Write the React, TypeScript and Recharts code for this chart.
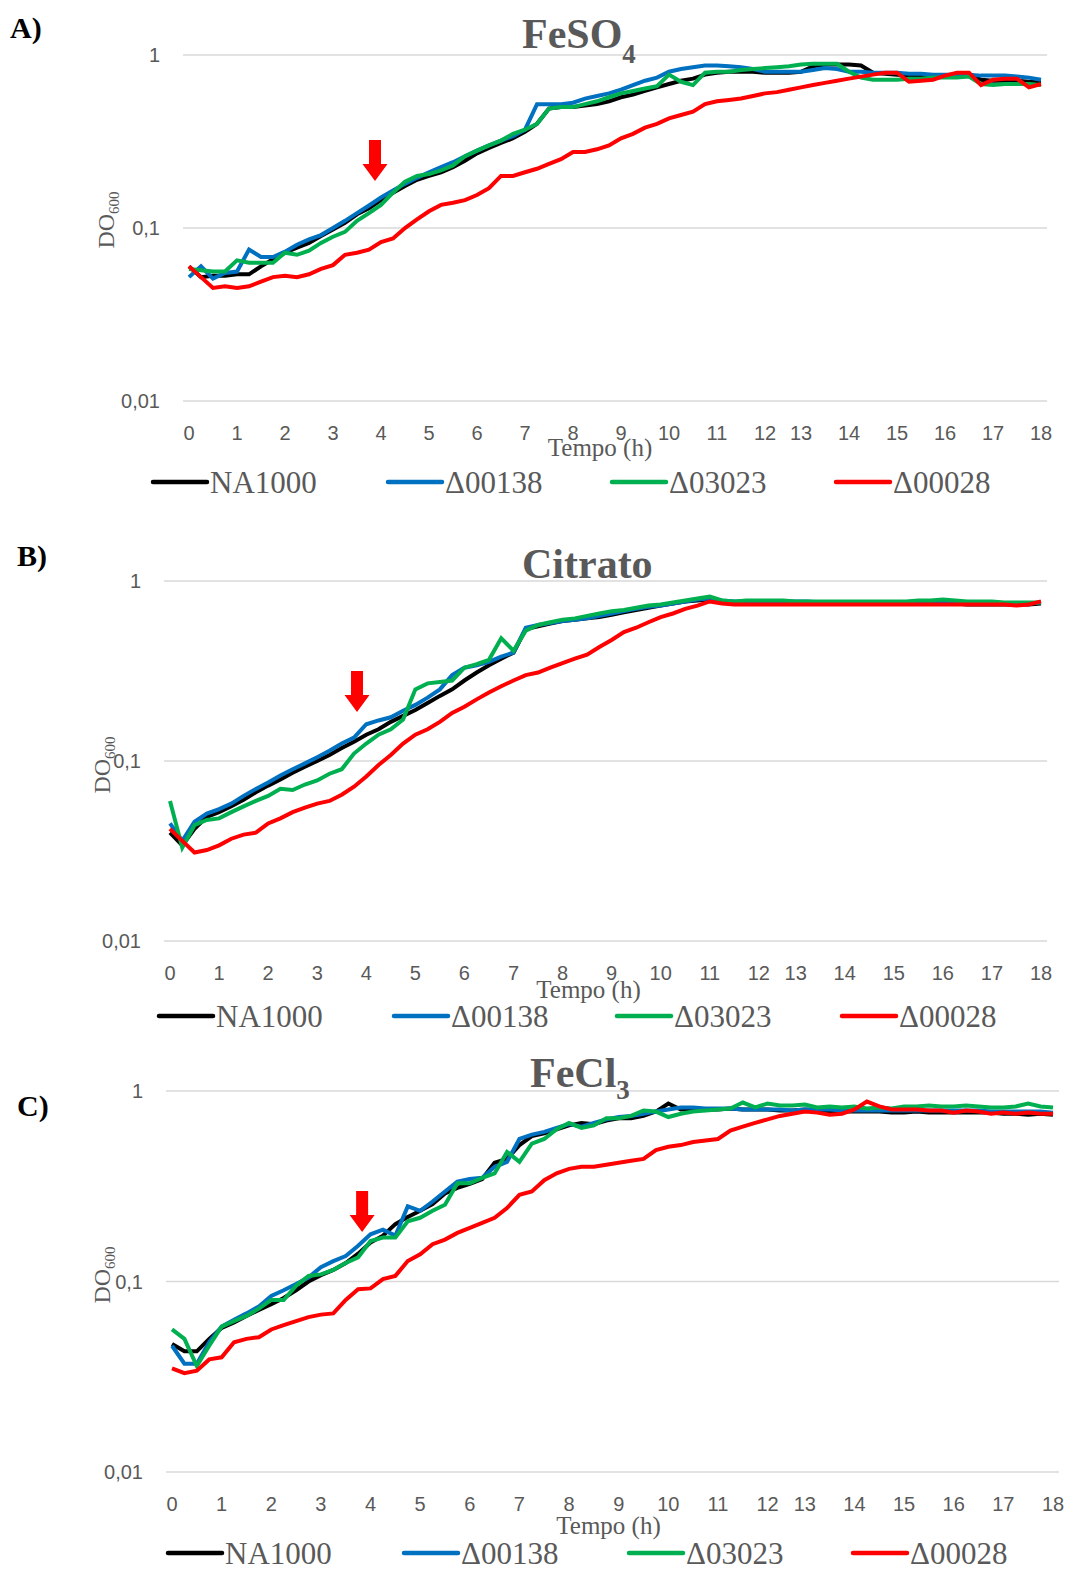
import React from 'react';
import { LineChart, Line, XAxis, YAxis, CartesianGrid, ReferenceDot } from 'recharts';

// sampling times (h) - one reading is missing between 12.5 and 13
const hours = [
  0, 0.25, 0.5, 0.75, 1, 1.25, 1.5, 1.75, 2, 2.25, 2.5, 2.75, 3, 3.25, 3.5, 3.75,
  4, 4.25, 4.5, 4.75, 5, 5.25, 5.5, 5.75, 6, 6.25, 6.5, 6.75, 7, 7.25, 7.5, 7.75,
  8, 8.25, 8.5, 8.75, 9, 9.25, 9.5, 9.75, 10, 10.25, 10.5, 10.75, 11, 11.25, 11.5, 11.75,
  12, 12.25, 12.5, 13, 13.25, 13.5, 13.75, 14, 14.25, 14.5, 14.75, 15, 15.25, 15.5, 15.75,
  16, 16.25, 16.5, 16.75, 17, 17.25, 17.5, 17.75, 18,
];
const hourTicks = [0, 1, 2, 3, 4, 5, 6, 7, 8, 9, 10, 11, 12, 13, 14, 15, 16, 17, 18];
const odTicks = [0.01, 0.1, 1];

const strainNames = ['NA1000', 'Δ00138', 'Δ03023', 'Δ00028'];
const strainColors = ['#000000', '#0070C0', '#00B050', '#FF0000'];

// A) FeSO4
const feso4NA1000 = [
  0.060, 0.052, 0.053, 0.053, 0.054, 0.054, 0.060, 0.066,
  0.072, 0.077, 0.082, 0.090, 0.098, 0.107, 0.120, 0.130,
  0.145, 0.160, 0.175, 0.190, 0.200, 0.210, 0.225, 0.245,
  0.270, 0.290, 0.310, 0.330, 0.360, 0.400, 0.490, 0.500,
  0.500, 0.510, 0.520, 0.540, 0.570, 0.590, 0.620, 0.650,
  0.680, 0.710, 0.730, 0.770, 0.790, 0.800, 0.800, 0.800,
  0.790, 0.790, 0.790, 0.800, 0.860, 0.880, 0.880, 0.880,
  0.870, 0.790, 0.780, 0.770, 0.760, 0.760, 0.760, 0.760,
  0.760, 0.760, 0.720, 0.710, 0.710, 0.710, 0.700, 0.700,
];
const feso4D00138 = [
  0.052, 0.060, 0.051, 0.055, 0.056, 0.075, 0.068, 0.068,
  0.073, 0.080, 0.086, 0.091, 0.100, 0.110, 0.122, 0.135,
  0.150, 0.165, 0.180, 0.195, 0.210, 0.225, 0.240, 0.260,
  0.280, 0.300, 0.320, 0.340, 0.370, 0.520, 0.520, 0.520,
  0.530, 0.560, 0.580, 0.600, 0.630, 0.670, 0.710, 0.740,
  0.800, 0.830, 0.850, 0.870, 0.870, 0.860, 0.850, 0.830,
  0.800, 0.800, 0.800, 0.800, 0.820, 0.840, 0.830, 0.800,
  0.800, 0.790, 0.790, 0.790, 0.780, 0.780, 0.770, 0.770,
  0.770, 0.770, 0.760, 0.760, 0.760, 0.750, 0.740, 0.720,
];
const feso4D03023 = [
  0.058, 0.057, 0.056, 0.056, 0.065, 0.063, 0.063, 0.063,
  0.072, 0.070, 0.074, 0.082, 0.089, 0.095, 0.110, 0.122,
  0.136, 0.160, 0.185, 0.200, 0.205, 0.215, 0.230, 0.260,
  0.280, 0.300, 0.320, 0.350, 0.370, 0.400, 0.490, 0.500,
  0.500, 0.520, 0.540, 0.570, 0.600, 0.620, 0.640, 0.660,
  0.770, 0.700, 0.670, 0.790, 0.800, 0.800, 0.820, 0.830,
  0.840, 0.850, 0.860, 0.880, 0.890, 0.890, 0.890, 0.800,
  0.740, 0.720, 0.720, 0.720, 0.730, 0.730, 0.740, 0.740,
  0.740, 0.750, 0.680, 0.670, 0.680, 0.680, 0.680, 0.670,
];
const feso4D00028 = [
  0.060, 0.052, 0.045, 0.046, 0.045, 0.046, 0.049, 0.052,
  0.053, 0.052, 0.054, 0.058, 0.061, 0.070, 0.072, 0.075,
  0.083, 0.087, 0.100, 0.112, 0.125, 0.136, 0.140, 0.145,
  0.155, 0.170, 0.200, 0.200, 0.210, 0.220, 0.235, 0.250,
  0.275, 0.275, 0.285, 0.300, 0.330, 0.350, 0.380, 0.400,
  0.430, 0.450, 0.470, 0.520, 0.540, 0.550, 0.560, 0.580,
  0.600, 0.610, 0.630, 0.650, 0.670, 0.690, 0.710, 0.730,
  0.750, 0.770, 0.790, 0.790, 0.700, 0.710, 0.720, 0.760,
  0.790, 0.790, 0.670, 0.720, 0.730, 0.730, 0.650, 0.680,
];

// B) Citrato
const citNA1000 = [
  0.040, 0.034, 0.042, 0.049, 0.052, 0.056, 0.061, 0.067,
  0.073, 0.079, 0.086, 0.093, 0.100, 0.108, 0.118, 0.128,
  0.140, 0.150, 0.165, 0.178, 0.192, 0.210, 0.230, 0.250,
  0.280, 0.310, 0.340, 0.370, 0.400, 0.540, 0.560, 0.580,
  0.600, 0.610, 0.620, 0.630, 0.650, 0.670, 0.690, 0.710,
  0.730, 0.750, 0.770, 0.780, 0.790, 0.770, 0.760, 0.760,
  0.760, 0.760, 0.760, 0.760, 0.760, 0.750, 0.750, 0.750,
  0.750, 0.750, 0.750, 0.750, 0.750, 0.750, 0.750, 0.750,
  0.750, 0.740, 0.740, 0.740, 0.740, 0.740, 0.740, 0.750,
];
const citD00138 = [
  0.045, 0.036, 0.046, 0.051, 0.054, 0.058, 0.064, 0.070,
  0.076, 0.083, 0.090, 0.097, 0.105, 0.114, 0.125, 0.135,
  0.160, 0.168, 0.175, 0.190, 0.205, 0.225, 0.250, 0.300,
  0.330, 0.340, 0.355, 0.380, 0.400, 0.550, 0.570, 0.585,
  0.600, 0.610, 0.620, 0.640, 0.660, 0.680, 0.700, 0.720,
  0.730, 0.750, 0.770, 0.790, 0.800, 0.780, 0.770, 0.770,
  0.770, 0.770, 0.770, 0.770, 0.770, 0.760, 0.760, 0.760,
  0.760, 0.760, 0.760, 0.760, 0.760, 0.760, 0.760, 0.760,
  0.760, 0.760, 0.750, 0.750, 0.750, 0.750, 0.750, 0.760,
];
const citD03023 = [
  0.060, 0.033, 0.044, 0.047, 0.048, 0.052, 0.056, 0.060,
  0.064, 0.070, 0.069, 0.074, 0.078, 0.085, 0.090, 0.110,
  0.125, 0.140, 0.150, 0.170, 0.250, 0.270, 0.275, 0.280,
  0.330, 0.345, 0.365, 0.480, 0.410, 0.530, 0.570, 0.590,
  0.610, 0.620, 0.640, 0.660, 0.680, 0.690, 0.710, 0.730,
  0.740, 0.760, 0.780, 0.800, 0.820, 0.780, 0.770, 0.780,
  0.780, 0.780, 0.780, 0.770, 0.770, 0.770, 0.770, 0.770,
  0.770, 0.770, 0.770, 0.770, 0.770, 0.780, 0.780, 0.790,
  0.780, 0.770, 0.770, 0.770, 0.760, 0.760, 0.760, 0.760,
];
const citD00028 = [
  0.042, 0.036, 0.031, 0.032, 0.034, 0.037, 0.039, 0.040,
  0.045, 0.048, 0.052, 0.055, 0.058, 0.060, 0.065, 0.072,
  0.082, 0.095, 0.108, 0.125, 0.140, 0.150, 0.165, 0.185,
  0.200, 0.220, 0.240, 0.260, 0.280, 0.300, 0.310, 0.330,
  0.350, 0.370, 0.390, 0.430, 0.470, 0.520, 0.550, 0.590,
  0.630, 0.660, 0.700, 0.730, 0.770, 0.750, 0.740, 0.740,
  0.740, 0.740, 0.740, 0.740, 0.740, 0.740, 0.740, 0.740,
  0.740, 0.740, 0.740, 0.740, 0.740, 0.740, 0.740, 0.740,
  0.740, 0.740, 0.740, 0.740, 0.740, 0.730, 0.740, 0.770,
];

// C) FeCl3
const fecl3NA1000 = [
  0.047, 0.043, 0.043, 0.050, 0.057, 0.061, 0.066, 0.071,
  0.076, 0.082, 0.090, 0.100, 0.108, 0.115, 0.125, 0.140,
  0.160, 0.174, 0.200, 0.218, 0.235, 0.255, 0.290, 0.310,
  0.325, 0.345, 0.420, 0.440, 0.520, 0.580, 0.600, 0.630,
  0.660, 0.680, 0.670, 0.700, 0.720, 0.720, 0.740, 0.780,
  0.860, 0.800, 0.800, 0.800, 0.800, 0.810, 0.800, 0.800,
  0.800, 0.790, 0.790, 0.800, 0.790, 0.780, 0.780, 0.780,
  0.780, 0.780, 0.770, 0.770, 0.780, 0.770, 0.770, 0.770,
  0.770, 0.770, 0.770, 0.760, 0.760, 0.750, 0.760, 0.750,
];
const fecl3D00138 = [
  0.046, 0.037, 0.037, 0.048, 0.058, 0.063, 0.068, 0.074,
  0.084, 0.090, 0.097, 0.105, 0.119, 0.128, 0.136, 0.154,
  0.177, 0.187, 0.174, 0.248, 0.235, 0.263, 0.297, 0.334,
  0.345, 0.350, 0.400, 0.425, 0.560, 0.590, 0.610, 0.640,
  0.670, 0.650, 0.680, 0.710, 0.730, 0.740, 0.760, 0.780,
  0.800, 0.820, 0.820, 0.810, 0.810, 0.810, 0.800, 0.800,
  0.800, 0.800, 0.790, 0.800, 0.800, 0.800, 0.790, 0.790,
  0.790, 0.790, 0.790, 0.790, 0.790, 0.790, 0.790, 0.790,
  0.790, 0.790, 0.780, 0.780, 0.780, 0.780, 0.780, 0.770,
];
const fecl3D03023 = [
  0.056, 0.050, 0.036, 0.046, 0.058, 0.062, 0.066, 0.072,
  0.080, 0.080, 0.095, 0.107, 0.109, 0.115, 0.125, 0.134,
  0.163, 0.170, 0.170, 0.207, 0.216, 0.235, 0.253, 0.328,
  0.328, 0.350, 0.369, 0.479, 0.425, 0.529, 0.560, 0.630,
  0.680, 0.640, 0.660, 0.720, 0.720, 0.740, 0.790, 0.780,
  0.730, 0.760, 0.780, 0.790, 0.800, 0.810, 0.870, 0.820,
  0.860, 0.840, 0.840, 0.850, 0.820, 0.830, 0.820, 0.830,
  0.810, 0.820, 0.810, 0.830, 0.830, 0.840, 0.830, 0.830,
  0.840, 0.830, 0.820, 0.820, 0.830, 0.860, 0.830, 0.820,
];
const fecl3D00028 = [
  0.035, 0.033, 0.034, 0.039, 0.040, 0.048, 0.050, 0.051,
  0.056, 0.059, 0.062, 0.065, 0.067, 0.068, 0.080, 0.091,
  0.092, 0.103, 0.107, 0.128, 0.139, 0.157, 0.166, 0.180,
  0.191, 0.203, 0.216, 0.243, 0.285, 0.297, 0.340, 0.370,
  0.390, 0.400, 0.400, 0.410, 0.420, 0.430, 0.440, 0.490,
  0.510, 0.520, 0.540, 0.550, 0.560, 0.620, 0.650, 0.680,
  0.710, 0.740, 0.760, 0.780, 0.770, 0.750, 0.760, 0.800,
  0.880, 0.830, 0.800, 0.800, 0.800, 0.790, 0.790, 0.770,
  0.790, 0.780, 0.760, 0.770, 0.760, 0.770, 0.760, 0.760,
];

const GREY = '#595959';
const SERIF = '"Liberation Serif", "Times New Roman", serif';
const SANS = '"Liberation Sans", Arial, sans-serif';

const panels = [
  {
    letter: 'A)', letterX: 10, letterY: 38,
    title: 'FeSO', sub: '4', titleX: 522, titleY: 48, subDy: 15,
    series: [feso4NA1000, feso4D00138, feso4D03023, feso4D00028],
    top: 0, height: 520, margin: { top: 55, right: 29, bottom: 89, left: 123 },
    tempoOffset: 7, tempoDx: -15,
    arrowY: 0.187, arrowShift: 6,
    doX: 114, doY: 220,
    legendY: 482, legendX: [153, 388, 612, 836],
  },
  {
    letter: 'B)', letterX: 17, letterY: 566,
    title: 'Citrato', sub: '', titleX: 522, titleY: 578, subDy: 0,
    series: [citNA1000, citD00138, citD03023, citD00028],
    top: 530, height: 520, margin: { top: 51, right: 29, bottom: 79, left: 104 },
    tempoOffset: 9, tempoDx: -17,
    arrowY: 0.187, arrowShift: 3,
    doX: 110, doY: 765,
    legendY: 1016, legendX: [159, 394, 617, 842],
  },
  {
    letter: 'C)', letterX: 17, letterY: 1116,
    title: 'FeCl', sub: '3', titleX: 530, titleY: 1087, subDy: 12,
    series: [fecl3NA1000, fecl3D00138, fecl3D03023, fecl3D00028],
    top: 1060, height: 515, margin: { top: 31, right: 17, bottom: 73, left: 106 },
    tempoOffset: 14, tempoDx: -4,
    arrowY: 0.182, arrowShift: 4,
    doX: 110, doY: 1275,
    legendY: 1553, legendX: [168, 404, 629, 853],
  },
];

const odFormat = (v: number) => String(v).replace('.', ',');

const makeArrow = (shift: number) => (props: any) => {
  const x = props.cx + shift;
  const y = props.cy;
  const d = `M${x - 6},${y - 41} L${x + 6},${y - 41} L${x + 6},${y - 17} L${x + 12.5},${y - 17} L${x},${y} L${x - 12.5},${y - 17} L${x - 6},${y - 17} Z`;
  return <path d={d} fill="#FF0000" />;
};

const GrowthPanel = ({ panel }: { panel: typeof panels[number] }) => {
  const data = hours.map((h, i) => ({
    h,
    s0: panel.series[0][i],
    s1: panel.series[1][i],
    s2: panel.series[2][i],
    s3: panel.series[3][i],
  }));

  return (
    <div style={{ position: 'absolute', left: 0, top: panel.top, width: 1076, height: panel.height }}>
      <LineChart width={1076} height={panel.height} data={data} margin={panel.margin}>
        <CartesianGrid vertical={false} stroke="#d9d9d9" strokeWidth={1.5} />
        <XAxis
          dataKey="h"
          type="category"
          scale="point"
          allowDuplicatedCategory={false}
          padding={{ left: 6, right: 6 }}
          ticks={hourTicks}
          interval={0}
          axisLine={false}
          tickLine={false}
          tickSize={0}
          tickMargin={25}
          height={30}
          tick={{ fill: GREY, fontSize: 20, fontFamily: SANS }}
          label={{
            value: 'Tempo (h)',
            position: 'bottom',
            offset: panel.tempoOffset,
            dx: panel.tempoDx,
            style: { fill: GREY, fontSize: 25, fontFamily: SERIF },
          }}
        />
        <YAxis
          scale="log"
          domain={[0.01, 1]}
          ticks={odTicks}
          tickFormatter={odFormat}
          width={60}
          axisLine={false}
          tickLine={false}
          tickSize={0}
          tickMargin={23}
          tick={{ fill: GREY, fontSize: 20, fontFamily: SANS }}
        />
        {strainNames.map((name, k) => (
          <Line
            key={name}
            dataKey={`s${k}`}
            name={name}
            stroke={strainColors[k]}
            strokeWidth={4}
            dot={false}
            isAnimationActive={false}
          />
        ))}
        <ReferenceDot x={3.75} y={panel.arrowY} ifOverflow="visible" shape={makeArrow(panel.arrowShift)} />
      </LineChart>
    </div>
  );
};

const Annotations = () => (
  <svg width={1076} height={1575} style={{ position: 'absolute', left: 0, top: 0, pointerEvents: 'none' }}>
    {panels.map((p) => (
      <g key={p.letter}>
        <text x={p.letterX} y={p.letterY} fontFamily={SERIF} fontWeight="bold" fontSize={30} fill="#000">
          {p.letter}
        </text>
        <text x={p.titleX} y={p.titleY} fontFamily={SERIF} fontWeight="bold" fontSize={42} fill={GREY}>
          {p.title}
          {p.sub && <tspan dy={p.subDy} fontSize={27}>{p.sub}</tspan>}
        </text>
        <text
          transform={`translate(${p.doX},${p.doY}) rotate(-90)`}
          textAnchor="middle"
          fontFamily={SERIF}
          fontSize={24}
          fill={GREY}
        >
          DO<tspan dy={5} fontSize={15}>600</tspan>
        </text>
        {strainNames.map((name, k) => (
          <g key={name}>
            <line
              x1={p.legendX[k]}
              x2={p.legendX[k] + 54}
              y1={p.legendY}
              y2={p.legendY}
              stroke={strainColors[k]}
              strokeWidth={4.5}
              strokeLinecap="round"
            />
            <text x={p.legendX[k] + 57} y={p.legendY + 11} fontFamily={SERIF} fontSize={31} fill={GREY}>
              {name}
            </text>
          </g>
        ))}
      </g>
    ))}
  </svg>
);

export default function App() {
  return (
    <div style={{ position: 'absolute', left: 0, top: 0, width: 1076, height: 1575, background: '#fff' }}>
      {panels.map((p) => (
        <GrowthPanel key={p.letter} panel={p} />
      ))}
      <Annotations />
    </div>
  );
}
